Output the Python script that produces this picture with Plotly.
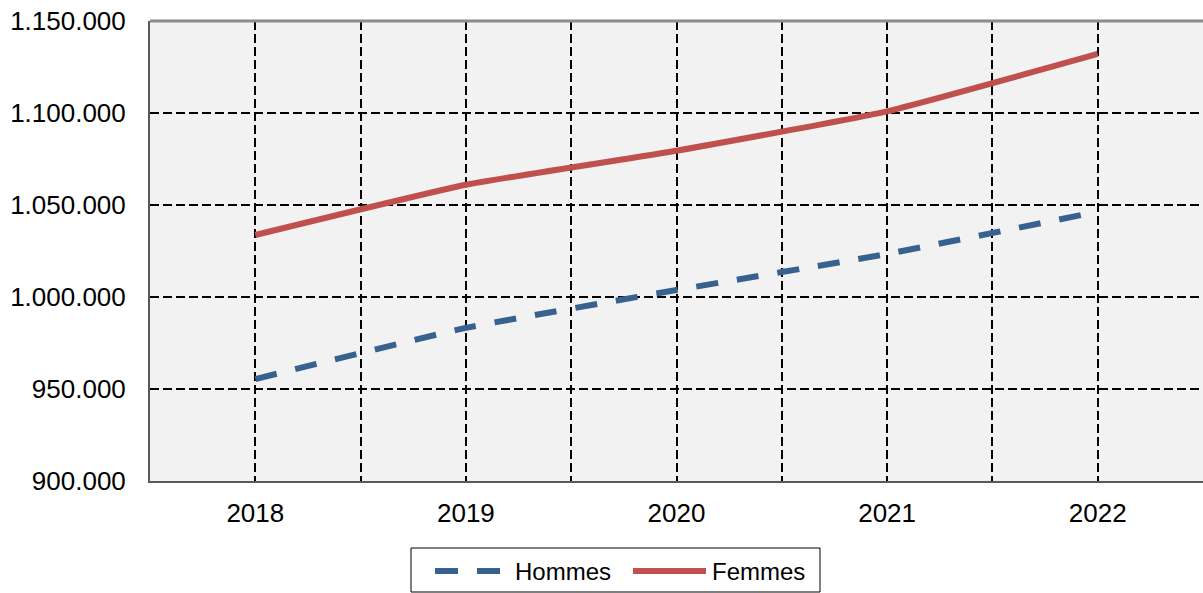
import plotly.graph_objects as go

years = ["2018", "2019", "2020", "2021", "2022"]
hommes = [955400, 983200, 1003800, 1023400, 1046400]
femmes = [1033700, 1061000, 1079500, 1100900, 1132100]
y_ticks = [900000, 950000, 1000000, 1050000, 1100000, 1150000]
series_names = ["Hommes", "Femmes"]
series_colors = ["#37618F", "#C0504D"]

x_idx = list(range(len(years)))

# page layout (body margin removed by post_script below)
W, H = 1203, 593
L, T, R, B = 150, 21, 1203, 481  # plot area in page pixels
PW, PH = R - L, B - T


def px_x(p):
    return (p - L) / PW


def px_y(p):
    return (B - p) / PH


fig = go.Figure()
fig.add_trace(go.Scatter(
    x=x_idx, y=hommes, name=series_names[0], mode="lines", showlegend=False,
    line=dict(color=series_colors[0], width=6, dash="22px,19px", shape="spline", smoothing=0.4),
))
fig.add_trace(go.Scatter(
    x=x_idx, y=femmes, name=series_names[1], mode="lines", showlegend=False,
    line=dict(color=series_colors[1], width=6, shape="spline", smoothing=0.4),
))

grid_vals = [i * 0.5 for i in range(0, 10)]
grid_text = [years[int(v)] if v == int(v) else "" for v in grid_vals]

fig.update_layout(
    width=W, height=H,
    margin=dict(l=L, r=W - R, t=T, b=H - B),
    paper_bgcolor="white",
    plot_bgcolor="#F2F2F2",
    separators=",.",
    font=dict(family="Liberation Sans, Arial, sans-serif", color="black", size=26),
    xaxis=dict(
        range=[-0.5, 4.5], automargin=False,
        tickmode="array", tickvals=grid_vals, ticktext=grid_text,
        showgrid=True, gridcolor="black", gridwidth=2, griddash="9px,4px",
        showline=True, linecolor="#595959", linewidth=2,
        ticks="", zeroline=False, ticklabelstandoff=8,
        tickfont=dict(size=26),
    ),
    yaxis=dict(
        range=[900000, 1150000], automargin=False,
        tickmode="array", tickvals=y_ticks, tickformat=",d",
        showgrid=True, gridcolor="black", gridwidth=2, griddash="9px,4px",
        showline=True, linecolor="#595959", linewidth=2,
        ticks="", zeroline=False, ticklabelstandoff=17,
        ticklabeloverflow="allow",
        tickfont=dict(size=26),
    ),
    showlegend=False,
)

# top border of plot area
fig.add_shape(type="line", xref="paper", yref="paper", x0=0, x1=1, y0=1, y1=1,
              line=dict(color="#8C8C8C", width=3))

# legend box
fig.add_shape(type="rect", xref="paper", yref="paper",
              x0=px_x(411), x1=px_x(820), y0=px_y(548), y1=px_y(592),
              line=dict(color="black", width=1), fillcolor="white")
ly = px_y(571)
fig.add_shape(type="line", xref="paper", yref="paper", x0=px_x(435), x1=px_x(500), y0=ly, y1=ly,
              line=dict(color=series_colors[0], width=6, dash="23px,19px"))
fig.add_shape(type="line", xref="paper", yref="paper", x0=px_x(633), x1=px_x(706), y0=ly, y1=ly,
              line=dict(color=series_colors[1], width=6))
fig.add_annotation(xref="paper", yref="paper", x=px_x(513), y=ly, text=series_names[0],
                   showarrow=False, xanchor="left", yanchor="middle", font=dict(size=24))
fig.add_annotation(xref="paper", yref="paper", x=px_x(710), y=ly, text=series_names[1],
                   showarrow=False, xanchor="left", yanchor="middle", font=dict(size=24))

fig.write_html(
    "out.html",
    config={"displayModeBar": False, "staticPlot": True},
    post_script="document.body.style.margin='0';document.body.style.overflow='hidden';",
)
